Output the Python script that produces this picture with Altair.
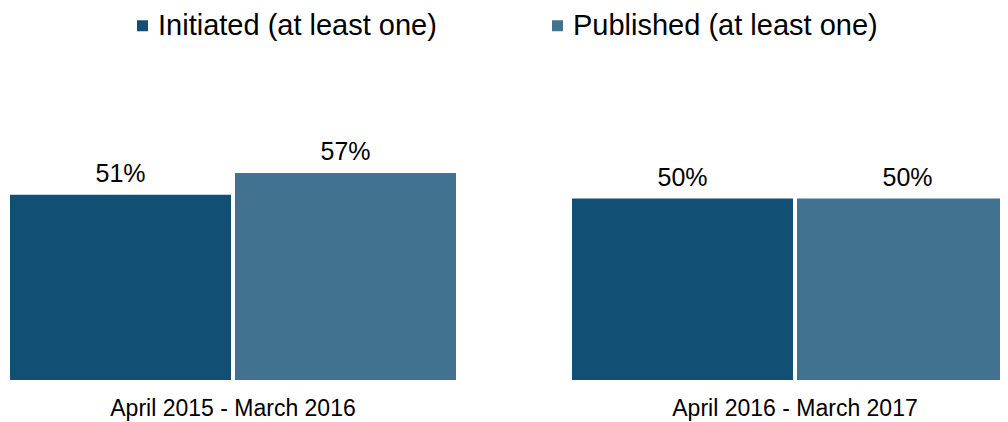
import altair as alt
import pandas as pd

periods = ["April 2015 - March 2016", "April 2016 - March 2017"]
series = ["Initiated (at least one)", "Published (at least one)"]
initiated = [51, 50]
published = [57, 50]
colors = ["#114F74", "#417391"]

rows = []
for i, p in enumerate(periods):
    rows.append({"period": p, "series": series[0], "value": initiated[i], "label": f"{initiated[i]}%"})
    rows.append({"period": p, "series": series[1], "value": published[i], "label": f"{published[i]}%"})
df = pd.DataFrame(rows)
pdf = pd.DataFrame({"period": periods, "zero": [0, 0]})

x = alt.X("period:N", sort=periods, title=None, axis=None,
          scale=alt.Scale(range=[2, 1010], paddingInner=0.2064, paddingOuter=0))
xo = alt.XOffset("series:N", sort=series, scale=alt.Scale(paddingInner=0.0178))
yscale = alt.Scale(domain=[0, 100], range=[372, 9])
y = alt.Y("value:Q", axis=None, scale=yscale)

bars = alt.Chart(df).mark_bar(clip=True).encode(
    x=x, xOffset=xo, y=y,
    color=alt.Color("series:N", sort=series,
                    scale=alt.Scale(domain=series, range=colors),
                    legend=alt.Legend(title=None, orient="none", direction="horizontal",
                                      legendX=120, legendY=3, padding=0,
                                      symbolType="square", symbolSize=121,
                                      symbolStrokeWidth=0,
                                      labelFontSize=29, labelFont="Liberation Sans",
                                      labelColor="#000000", labelOffset=1,
                                      columnPadding=106, labelLimit=500)),
)

text = alt.Chart(df).mark_text(fontSize=25, font="Liberation Sans", color="#000000",
                               dy=-13, baseline="alphabetic", align="center").encode(
    x=x, xOffset=xo, y=y, text="label:N"
)

plabels = alt.Chart(pdf).mark_text(fontSize=23, font="Liberation Sans", color="#000000",
                                   dy=36, baseline="alphabetic", align="center").encode(
    x=x, y=alt.Y("zero:Q", axis=None, scale=yscale), text="period:N"
)

chart = (bars + text + plabels).properties(
    width=992, height=414,
    padding={"left": 0, "right": 0, "top": 0, "bottom": 0},
    autosize=alt.AutoSizeParams(type="none"),
).configure_view(stroke=None).configure_axis(grid=False)

chart.save("out.html", embed_options={"renderer": "svg", "actions": False})
